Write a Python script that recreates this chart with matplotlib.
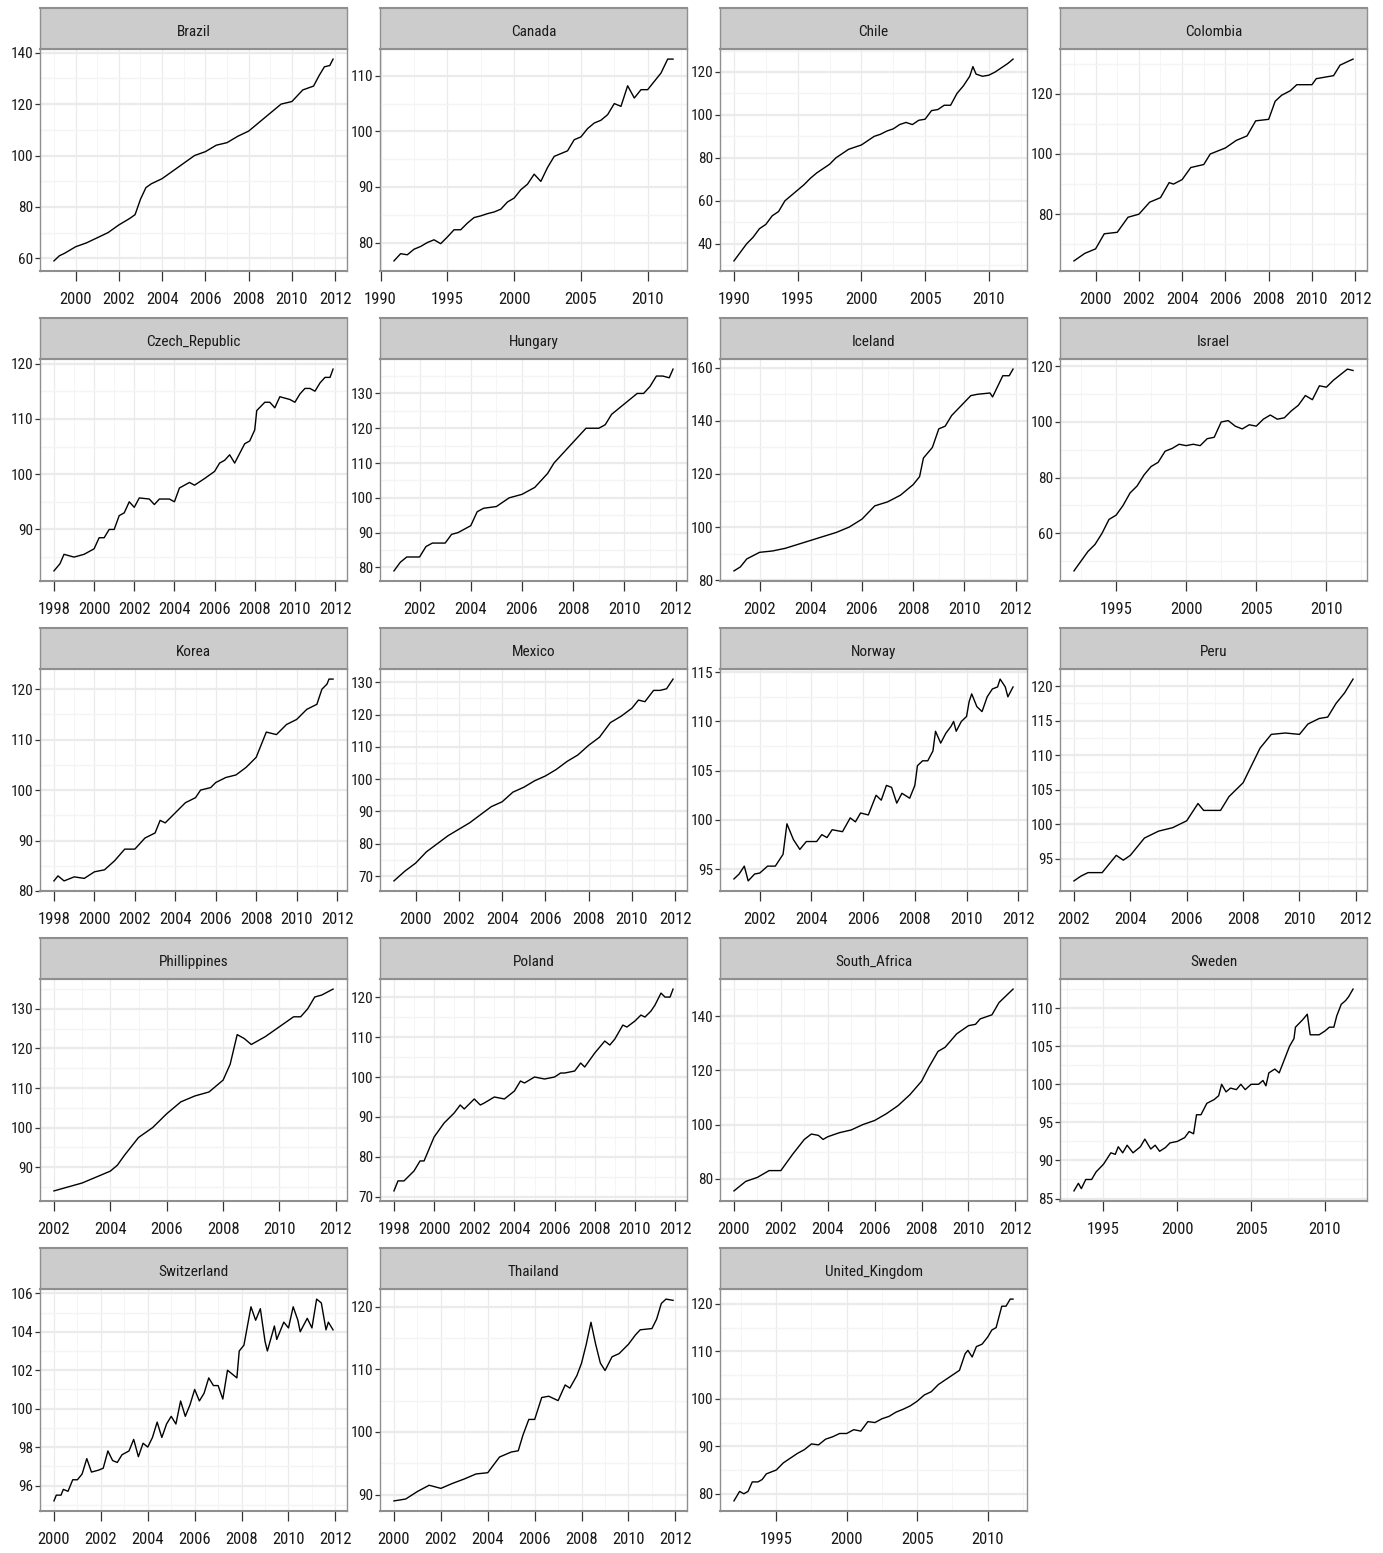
import numpy as np
import matplotlib
matplotlib.use("Agg")
import matplotlib.pyplot as plt
from matplotlib.ticker import MultipleLocator, AutoMinorLocator, FuncFormatter
from matplotlib import font_manager

# ---------------- data ----------------
countries = ["Brazil", "Canada", "Chile", "Colombia", "Czech_Republic", "Hungary",
             "Iceland", "Israel", "Korea", "Mexico", "Norway", "Peru",
             "Phillippines", "Poland", "South_Africa", "Sweden",
             "Switzerland", "Thailand", "United_Kingdom"]

brazil_year = [1999.0, 1999.25, 1999.5, 2000.0, 2000.5, 2001.0, 2001.5, 2002.0, 2002.5, 2002.75,
               2003.0, 2003.25, 2003.5, 2004.0, 2004.5, 2005.0, 2005.5, 2006.0, 2006.5, 2007.0,
               2007.5, 2008.0, 2008.5, 2009.0, 2009.5, 2010.0, 2010.5, 2011.0, 2011.25, 2011.5,
               2011.75, 2011.9]
brazil_value = [59, 61, 62, 64.5, 66, 68, 70, 73, 75.5, 77,
                83, 87.5, 89, 91, 94, 97, 100, 101.5, 104, 105,
                107.5, 109.5, 113, 116.5, 120, 121, 125.5, 127, 131, 134.5,
                135, 137.5]

canada_year = [1991.0, 1991.5, 1992.0, 1992.5, 1993.0, 1993.5, 1994.0, 1994.5, 1995.0, 1995.5,
               1996.0, 1996.5, 1997.0, 1997.5, 1998.0, 1998.5, 1999.0, 1999.5, 2000.0, 2000.5,
               2001.0, 2001.5, 2002.0, 2002.5, 2003.0, 2003.5, 2004.0, 2004.5, 2005.0, 2005.5,
               2006.0, 2006.5, 2007.0, 2007.5, 2008.0, 2008.5, 2009.0, 2009.5, 2010.0, 2010.5,
               2011.0, 2011.5, 2011.9]
canada_value = [76.7, 78, 77.8, 78.8, 79.3, 80, 80.5, 79.8, 81, 82.3,
                82.3, 83.5, 84.5, 84.8, 85.2, 85.5, 86, 87.3, 88, 89.5,
                90.5, 92.3, 91, 93.5, 95.5, 96, 96.5, 98.5, 99, 100.5,
                101.5, 102, 103, 105, 104.5, 108.2, 106, 107.5, 107.5, 109,
                110.5, 113, 113]

chile_year = [1990.0, 1990.5, 1991.0, 1991.5, 1992.0, 1992.5, 1993.0, 1993.5, 1994.0, 1994.5,
              1995.0, 1995.5, 1996.0, 1996.5, 1997.0, 1997.5, 1998.0, 1998.5, 1999.0, 1999.5,
              2000.0, 2000.5, 2001.0, 2001.5, 2002.0, 2002.5, 2003.0, 2003.5, 2004.0, 2004.5,
              2005.0, 2005.5, 2006.0, 2006.5, 2007.0, 2007.5, 2008.0, 2008.5, 2008.75, 2009.0,
              2009.5, 2010.0, 2010.5, 2011.0, 2011.5, 2011.9]
chile_value = [32, 36, 40, 43, 47, 49, 53, 55, 60, 62.5,
               65, 67.5, 70.5, 73, 75, 77, 80, 82, 84, 85,
               86, 88, 90, 91, 92.5, 93.5, 95.5, 96.5, 95.5, 97.5,
               98, 102, 102.5, 104.5, 104.5, 110, 113.5, 118, 122.5, 119,
               118, 118.5, 120, 122, 124, 126]

colombia_year = [1999.0, 1999.5, 2000.0, 2000.4, 2001.0, 2001.5, 2002.0, 2002.5, 2003.0, 2003.4,
                 2003.6, 2004.0, 2004.4, 2005.0, 2005.3, 2006.0, 2006.5, 2007.0, 2007.4, 2008.0,
                 2008.3, 2008.6, 2009.0, 2009.3, 2010.0, 2010.2, 2011.0, 2011.3, 2011.9]
colombia_value = [64.5, 67, 68.5, 73.5, 74, 79, 80, 84, 85.5, 90.5,
                  90, 91.5, 95.5, 96.5, 100, 102, 104.5, 106, 111, 111.5,
                  117.5, 119.5, 121, 123, 123, 125, 126, 129.5, 131.5]

czech_year = [1998.0, 1998.3, 1998.5, 1999.0, 1999.5, 2000.0, 2000.25, 2000.5, 2000.75, 2001.0,
              2001.25, 2001.5, 2001.75, 2002.0, 2002.25, 2002.75, 2003.0, 2003.25, 2003.75, 2004.0,
              2004.25, 2004.75, 2005.0, 2005.5, 2006.0, 2006.25, 2006.5, 2006.75, 2007.0, 2007.5,
              2007.75, 2008.0, 2008.1, 2008.5, 2008.75, 2009.0, 2009.25, 2009.75, 2010.0, 2010.25,
              2010.5, 2010.75, 2011.0, 2011.25, 2011.5, 2011.75, 2011.9]
czech_value = [82.5, 83.8, 85.5, 85, 85.5, 86.5, 88.5, 88.5, 90, 90,
               92.5, 93, 95, 94, 95.7, 95.5, 94.5, 95.5, 95.5, 95,
               97.5, 98.5, 98, 99.2, 100.5, 102, 102.5, 103.5, 102, 105.5,
               106, 108, 111.5, 113, 113, 112, 114, 113.5, 113, 114.5,
               115.5, 115.5, 115, 116.5, 117.5, 117.5, 119]

hungary_year = [2001.0, 2001.25, 2001.5, 2002.0, 2002.25, 2002.5, 2003.0, 2003.25, 2003.5, 2004.0,
                2004.25, 2004.5, 2005.0, 2005.5, 2006.0, 2006.5, 2007.0, 2007.25, 2007.5, 2008.0,
                2008.25, 2008.5, 2009.0, 2009.25, 2009.5, 2009.75, 2010.0, 2010.5, 2010.75, 2011.0,
                2011.25, 2011.5, 2011.75, 2011.9]
hungary_value = [79, 81.5, 83, 83, 86, 87, 87, 89.5, 90, 92,
                 96, 97, 97.5, 100, 101, 103, 107, 110, 112, 116,
                 118, 120, 120, 121, 124, 125.5, 127, 130, 130, 132,
                 135, 135, 134.5, 137]

iceland_year = [2001.0, 2001.25, 2001.5, 2002.0, 2002.5, 2003.0, 2003.5, 2004.0, 2004.5, 2005.0,
                2005.5, 2006.0, 2006.5, 2007.0, 2007.5, 2008.0, 2008.25, 2008.4, 2008.75, 2009.0,
                2009.25, 2009.5, 2010.0, 2010.25, 2010.5, 2011.0, 2011.1, 2011.5, 2011.75, 2011.9]
iceland_value = [83.5, 85, 88, 90.5, 91, 92, 93.5, 95, 96.5, 98,
                 100, 103, 108, 109.5, 112, 116, 119, 126, 130, 137,
                 138, 142, 147, 149.5, 150, 150.5, 149, 157, 157, 159.5]

israel_year = [1992.0, 1992.5, 1993.0, 1993.5, 1994.0, 1994.5, 1995.0, 1995.5, 1996.0, 1996.5,
               1997.0, 1997.5, 1998.0, 1998.5, 1999.0, 1999.5, 2000.0, 2000.5, 2001.0, 2001.5,
               2002.0, 2002.5, 2003.0, 2003.5, 2004.0, 2004.5, 2005.0, 2005.5, 2006.0, 2006.5,
               2007.0, 2007.5, 2008.0, 2008.5, 2009.0, 2009.5, 2010.0, 2010.5, 2011.0, 2011.5,
               2011.9]
israel_value = [46.5, 50, 53.5, 56, 60, 65, 66.5, 70, 74.5, 77,
                81, 84, 85.5, 89.5, 90.5, 92, 91.5, 92, 91.5, 94,
                94.5, 100, 100.5, 98.5, 97.5, 99, 98.5, 101, 102.5, 101,
                101.5, 104, 106, 109.5, 108, 113, 112.5, 115, 117, 119,
                118.5]

korea_year = [1998.0, 1998.2, 1998.5, 1999.0, 1999.5, 2000.0, 2000.5, 2001.0, 2001.5, 2002.0,
              2002.5, 2003.0, 2003.25, 2003.5, 2004.0, 2004.5, 2005.0, 2005.25, 2005.75, 2006.0,
              2006.5, 2007.0, 2007.5, 2008.0, 2008.25, 2008.5, 2009.0, 2009.5, 2010.0, 2010.5,
              2011.0, 2011.25, 2011.5, 2011.6, 2011.8]
korea_value = [82, 83, 82, 82.8, 82.5, 83.8, 84.2, 86, 88.3, 88.3,
               90.5, 91.5, 94, 93.5, 95.5, 97.5, 98.5, 100, 100.5, 101.5,
               102.5, 103, 104.5, 106.5, 109, 111.5, 111, 113, 114, 116,
               117, 120, 121, 122, 122]

mexico_year = [1999.0, 1999.5, 2000.0, 2000.5, 2001.0, 2001.5, 2002.0, 2002.5, 2003.0, 2003.5,
               2004.0, 2004.5, 2005.0, 2005.5, 2006.0, 2006.5, 2007.0, 2007.5, 2008.0, 2008.5,
               2009.0, 2009.5, 2010.0, 2010.3, 2010.6, 2011.0, 2011.3, 2011.6, 2011.9]
mexico_value = [68.5, 71.5, 74, 77.5, 80, 82.5, 84.5, 86.5, 89, 91.5,
                93, 96, 97.5, 99.5, 101, 103, 105.5, 107.5, 110.5, 113,
                117.5, 119.5, 122, 124.5, 124, 127.5, 127.5, 128, 131]

norway_year = [2001.0, 2001.2, 2001.4, 2001.55, 2001.8, 2002.0, 2002.3, 2002.6, 2002.9, 2003.05,
               2003.3, 2003.55, 2003.8, 2004.2, 2004.4, 2004.6, 2004.8, 2005.2, 2005.5, 2005.7,
               2005.9, 2006.2, 2006.5, 2006.7, 2006.9, 2007.1, 2007.3, 2007.5, 2007.8, 2008.0,
               2008.1, 2008.3, 2008.5, 2008.7, 2008.8, 2009.0, 2009.2, 2009.4, 2009.5, 2009.6,
               2009.8, 2010.0, 2010.1, 2010.2, 2010.4, 2010.6, 2010.8, 2011.0, 2011.2, 2011.3,
               2011.5, 2011.6, 2011.8]
norway_value = [94, 94.5, 95.3, 93.8, 94.5, 94.6, 95.3, 95.3, 96.5, 99.6,
                98, 97, 97.8, 97.8, 98.5, 98.2, 99, 98.8, 100.2, 99.8,
                100.7, 100.5, 102.5, 102, 103.5, 103.3, 101.7, 102.7, 102.2, 103.5,
                105.5, 106, 106, 107, 109, 107.8, 108.8, 109.5, 110, 109,
                110, 110.5, 112, 112.8, 111.5, 111, 112.5, 113.3, 113.5, 114.3,
                113.5, 112.5, 113.5]

peru_year = [2002.0, 2002.25, 2002.5, 2003.0, 2003.3, 2003.5, 2003.75, 2004.0, 2004.5, 2005.0,
             2005.5, 2006.0, 2006.4, 2006.6, 2007.0, 2007.2, 2007.5, 2008.0, 2008.3, 2008.6,
             2009.0, 2009.5, 2010.0, 2010.3, 2010.7, 2011.0, 2011.3, 2011.6, 2011.9]
peru_value = [91.8, 92.5, 93, 93, 94.5, 95.5, 94.8, 95.5, 98, 99,
              99.5, 100.5, 103, 102, 102, 102, 104, 106, 108.5, 111,
              113, 113.2, 113, 114.5, 115.3, 115.5, 117.5, 119, 121]

philippines_year = [2002.0, 2002.5, 2003.0, 2003.5, 2004.0, 2004.25, 2004.5, 2005.0, 2005.5, 2006.0,
                    2006.5, 2007.0, 2007.5, 2008.0, 2008.25, 2008.5, 2008.75, 2009.0, 2009.5, 2010.0,
                    2010.5, 2010.75, 2011.0, 2011.25, 2011.5, 2011.9]
philippines_value = [84, 85, 86, 87.5, 89, 90.5, 93, 97.5, 100, 103.5,
                     106.5, 108, 109, 112, 116, 123.5, 122.5, 121, 123, 125.5,
                     128, 128, 130, 133, 133.5, 135]

poland_year = [1998.0, 1998.2, 1998.5, 1999.0, 1999.3, 1999.5, 2000.0, 2000.5, 2001.0, 2001.3,
               2001.5, 2002.0, 2002.3, 2002.5, 2003.0, 2003.5, 2004.0, 2004.3, 2004.5, 2005.0,
               2005.5, 2006.0, 2006.3, 2006.5, 2007.0, 2007.3, 2007.5, 2008.0, 2008.5, 2008.75,
               2009.0, 2009.4, 2009.6, 2010.0, 2010.3, 2010.5, 2010.8, 2011.0, 2011.3, 2011.5,
               2011.75, 2011.9]
poland_value = [71.5, 74, 74, 76.5, 79, 79, 85, 88.5, 91, 93,
                92, 94.5, 93, 93.5, 95, 94.5, 96.5, 99, 98.5, 100,
                99.5, 100, 101, 101, 101.5, 103.5, 102.5, 106, 109, 108,
                109.5, 113, 112.5, 114, 115.5, 115, 116.5, 118, 121, 120,
                120, 122]

south_africa_year = [2000.0, 2000.5, 2001.0, 2001.5, 2002.0, 2002.5, 2003.0, 2003.3, 2003.6, 2003.8,
                     2004.0, 2004.5, 2005.0, 2005.5, 2006.0, 2006.5, 2007.0, 2007.5, 2008.0, 2008.3,
                     2008.7, 2009.0, 2009.5, 2010.0, 2010.3, 2010.5, 2011.0, 2011.3, 2011.6, 2011.9]
south_africa_value = [75.5, 79, 80.5, 83, 83, 89, 94.5, 96.5, 96, 94.5,
                      95.5, 97, 98, 100, 101.5, 104, 107, 111, 116, 121,
                      127, 128.5, 133.5, 136.5, 137, 139, 140.5, 145, 147.5, 150]

sweden_year = [1993.0, 1993.3, 1993.5, 1993.8, 1994.2, 1994.5, 1995.0, 1995.5, 1995.8, 1996.0,
               1996.3, 1996.6, 1997.0, 1997.5, 1997.8, 1998.2, 1998.5, 1998.8, 1999.2, 1999.5,
               2000.0, 2000.5, 2000.8, 2001.1, 2001.3, 2001.6, 2002.0, 2002.5, 2002.8, 2003.0,
               2003.3, 2003.6, 2004.0, 2004.3, 2004.6, 2005.0, 2005.5, 2005.8, 2006.0, 2006.2,
               2006.6, 2006.9, 2007.2, 2007.6, 2007.9, 2008.0, 2008.5, 2008.8, 2009.0, 2009.3,
               2009.6, 2010.0, 2010.3, 2010.6, 2010.8, 2011.1, 2011.4, 2011.6, 2011.9]
sweden_value = [86, 87, 86.3, 87.5, 87.5, 88.5, 89.5, 91, 90.8, 91.8,
                91, 92, 91, 91.8, 92.8, 91.5, 92, 91.2, 91.7, 92.3,
                92.5, 93, 93.8, 93.5, 96, 96, 97.5, 98, 98.5, 100,
                99, 99.5, 99.3, 100, 99.3, 100, 100, 100.5, 99.8, 101.5,
                102, 101.5, 103, 105, 106, 107.5, 108.5, 109.2, 106.5, 106.5,
                106.5, 107, 107.5, 107.5, 109, 110.5, 111, 111.5, 112.5]

switzerland_year = [2000.0, 2000.1, 2000.3, 2000.4, 2000.6, 2000.8, 2001.0, 2001.2, 2001.4, 2001.6,
                    2001.9, 2002.1, 2002.3, 2002.5, 2002.7, 2002.9, 2003.2, 2003.4, 2003.6, 2003.8,
                    2004.0, 2004.2, 2004.4, 2004.6, 2004.8, 2005.0, 2005.2, 2005.4, 2005.6, 2005.8,
                    2006.0, 2006.2, 2006.4, 2006.6, 2006.8, 2007.0, 2007.2, 2007.4, 2007.6, 2007.8,
                    2007.9, 2008.1, 2008.4, 2008.6, 2008.8, 2009.0, 2009.1, 2009.4, 2009.5, 2009.8,
                    2010.0, 2010.2, 2010.4, 2010.5, 2010.8, 2011.0, 2011.2, 2011.4, 2011.6, 2011.7,
                    2011.9]
switzerland_value = [95.2, 95.5, 95.5, 95.8, 95.7, 96.3, 96.3, 96.6, 97.4, 96.7,
                     96.8, 96.9, 97.8, 97.3, 97.2, 97.6, 97.8, 98.4, 97.5, 98.2,
                     98.0, 98.5, 99.3, 98.5, 99.2, 99.6, 99.2, 100.4, 99.6, 100.2,
                     101.0, 100.4, 100.8, 101.6, 101.2, 101.2, 100.5, 102.0, 101.8, 101.6,
                     103.0, 103.3, 105.3, 104.6, 105.2, 103.5, 103.0, 104.3, 103.6, 104.5,
                     104.2, 105.3, 104.6, 104.0, 104.7, 104.2, 105.7, 105.5, 104.1, 104.5,
                     104.1]

thailand_year = [2000.0, 2000.5, 2001.0, 2001.5, 2002.0, 2002.5, 2003.0, 2003.5, 2004.0, 2004.5,
                 2005.0, 2005.3, 2005.5, 2005.75, 2006.0, 2006.3, 2006.6, 2007.0, 2007.3, 2007.5,
                 2007.8, 2008.0, 2008.2, 2008.4, 2008.6, 2008.8, 2009.0, 2009.3, 2009.6, 2010.0,
                 2010.3, 2010.5, 2011.0, 2011.2, 2011.4, 2011.6, 2011.9]
thailand_value = [89, 89.3, 90.5, 91.5, 91, 91.8, 92.5, 93.3, 93.5, 96,
                  96.8, 97, 99.5, 102, 102, 105.5, 105.7, 105, 107.5, 107,
                  109, 111, 114, 117.5, 114, 111, 109.8, 112, 112.5, 114,
                  115.5, 116.3, 116.5, 118, 120.5, 121.2, 121]

uk_year = [1992.0, 1992.4, 1992.7, 1993.0, 1993.3, 1993.7, 1994.0, 1994.3, 1995.0, 1995.5,
           1996.0, 1996.5, 1997.0, 1997.5, 1998.0, 1998.5, 1999.0, 1999.5, 2000.0, 2000.5,
           2001.0, 2001.5, 2002.0, 2002.5, 2003.0, 2003.5, 2004.0, 2004.5, 2005.0, 2005.5,
           2006.0, 2006.5, 2007.0, 2007.5, 2008.0, 2008.4, 2008.6, 2008.9, 2009.2, 2009.6,
           2010.0, 2010.3, 2010.6, 2011.0, 2011.3, 2011.6, 2011.8]
uk_value = [78.5, 80.5, 80, 80.5, 82.5, 82.5, 83, 84.2, 85, 86.5,
            87.5, 88.5, 89.3, 90.5, 90.3, 91.5, 92, 92.7, 92.7, 93.5,
            93.2, 95.2, 95, 95.8, 96.3, 97.2, 97.8, 98.5, 99.5, 100.8,
            101.5, 103, 104, 105, 106, 109.5, 110.2, 108.8, 111, 111.5,
            113, 114.5, 115, 119.5, 119.5, 121, 121]

years = [brazil_year, canada_year, chile_year, colombia_year, czech_year, hungary_year,
         iceland_year, israel_year, korea_year, mexico_year, norway_year, peru_year,
         philippines_year, poland_year, south_africa_year, sweden_year,
         switzerland_year, thailand_year, uk_year]
values = [brazil_value, canada_value, chile_value, colombia_value, czech_value, hungary_value,
          iceland_value, israel_value, korea_value, mexico_value, norway_value, peru_value,
          philippines_value, poland_value, south_africa_value, sweden_value,
          switzerland_value, thailand_value, uk_value]

# tick spacing per panel (x in years, y in index units)
x_tick_step = [2, 5, 5, 2, 2, 2, 2, 5, 2, 2, 2, 2, 2, 2, 2, 5, 2, 2, 5]
y_tick_step = [20, 10, 20, 20, 10, 10, 20, 20, 10, 10, 5, 5, 10, 10, 20, 5, 2, 10, 10]

# ---------------- style ----------------
names = {f.name for f in font_manager.fontManager.ttflist}
font = "DejaVu Sans"
for cand in ["Liberation Sans Narrow", "Roboto Condensed", "Open Sans Condensed", "Arial Narrow"]:
    if cand in names:
        font = cand
        break
plt.rcParams["font.family"] = [font, "DejaVu Sans"]

W, H = 1383, 1553
DPI = 100
fig = plt.figure(figsize=(W / DPI, H / DPI), dpi=DPI, facecolor="white")

col_left = [40, 380, 720, 1060]
panel_w = 307
strip_top0 = 8
row_pitch = 310.0
strip_h = 41
plot_h = 222

border_col = "#8f8f8f"
strip_fill = "#cccccc"
grid_major = "#ebebeb"
grid_minor = "#f4f4f4"
text_col = "#1a1a1a"

condensed = font != "DejaVu Sans"
fs_x = 12 if condensed else 9.5
fs_y = 11 if condensed else 9
fs_strip = 11 if condensed else 9

fmt = FuncFormatter(lambda v, p: f"{v:.0f}")

for i, name in enumerate(countries):
    r, c = divmod(i, 4)
    st = strip_top0 + r * row_pitch
    left = col_left[c]
    # plot axes
    ax_bottom = H - (st + strip_h + plot_h)
    ax = fig.add_axes([left / W, ax_bottom / H, panel_w / W, plot_h / H])
    ax.plot(years[i], values[i], color="black", linewidth=1.0)
    ax.margins(x=0.05, y=0.05)
    ax.xaxis.set_major_locator(MultipleLocator(x_tick_step[i]))
    ax.yaxis.set_major_locator(MultipleLocator(y_tick_step[i]))
    ax.xaxis.set_minor_locator(AutoMinorLocator(2))
    ax.yaxis.set_minor_locator(AutoMinorLocator(2))
    # horizontal grid lines look thicker than vertical ones in the reference
    ax.yaxis.grid(True, which="major", color=grid_major, linewidth=1.6)
    ax.yaxis.grid(True, which="minor", color=grid_minor, linewidth=1.0)
    ax.xaxis.grid(True, which="major", color=grid_major, linewidth=0.9)
    ax.xaxis.grid(True, which="minor", color=grid_minor, linewidth=0.6)
    ax.set_axisbelow(True)
    for side, s in ax.spines.items():
        s.set_color(border_col)
        s.set_linewidth(1.5 if side in ("top", "bottom") else 1.0)
    ax.tick_params(which="minor", length=0)
    ax.tick_params(axis="y", which="major", direction="out", length=3.6, width=0.9,
                   color="#333333", labelsize=fs_y, labelcolor=text_col, pad=1.5)
    ax.tick_params(axis="x", which="major", direction="out", length=7, width=0.9,
                   color="#333333", labelsize=fs_x, labelcolor=text_col, pad=8)
    ax.xaxis.set_major_formatter(fmt)
    ax.yaxis.set_major_formatter(fmt)
    # strip
    sax = fig.add_axes([left / W, (H - st - strip_h) / H, panel_w / W, strip_h / H])
    sax.set_facecolor(strip_fill)
    sax.set_xticks([])
    sax.set_yticks([])
    for side, s in sax.spines.items():
        s.set_color(border_col)
        s.set_linewidth(1.5 if side in ("top", "bottom") else 1.0)
    sax.text(0.5, 0.42, name, ha="center", va="center", fontsize=fs_strip, color=text_col,
             transform=sax.transAxes)

fig.savefig("out.png", dpi=DPI, facecolor="white")
print("font:", font)
